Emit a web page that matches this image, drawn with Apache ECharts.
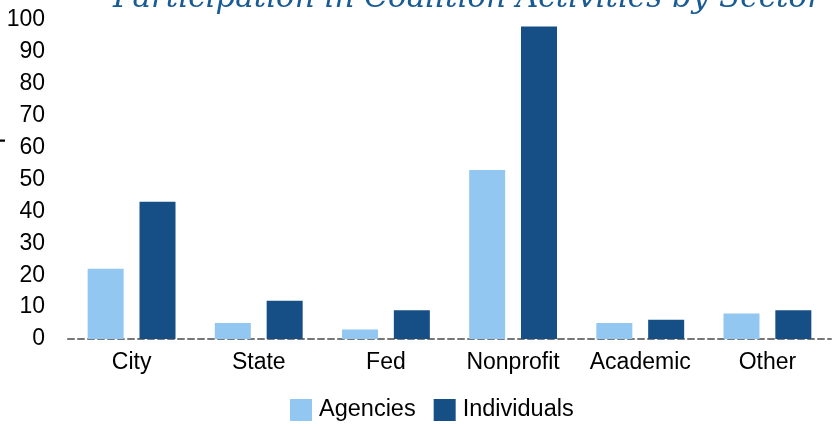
<!DOCTYPE html>
<html>
<head>
<meta charset="utf-8">
<script src="https://cdn.jsdelivr.net/npm/echarts@6/dist/echarts.min.js"></script>
<style>
  html, body { margin: 0; padding: 0; background: #fff; }
  #chart { width: 837px; height: 424px; }
</style>
</head>
<body>
<div id="chart"></div>
<script>
// data
var sectors = ['City', 'State', 'Fed', 'Nonprofit', 'Academic', 'Other'];
var agencies = [22, 5, 3, 53, 5, 8];
var individuals = [43, 12, 9, 98, 6, 9];
var seriesNames = ['Agencies', 'Individuals'];

var chart = echarts.init(document.getElementById('chart'));

var option = {
  animation: false,
  textStyle: { fontFamily: 'Liberation Sans, Arial, sans-serif' },
  title: {
    text: 'Participation in Coalition Activities by Sector',
    left: 108,
    top: -22,
    textStyle: {
      fontFamily: 'DejaVu Serif',
      fontStyle: 'italic',
      fontWeight: 'normal',
      fontSize: 31,
      color: '#1a5b93'
    }
  },
  // y axis title, mostly cut off by the left edge as in the source
  graphic: [{
    type: 'text',
    left: -20,
    top: 80,
    rotation: Math.PI / 2,
    style: {
      text: '# of Participants',
      fontSize: 26,
      fill: '#000',
      fontFamily: 'Liberation Sans, Arial, sans-serif'
    }
  }],
  legend: {
    data: seriesNames,
    bottom: -3,
    left: 285,
    itemWidth: 22,
    itemHeight: 22,
    itemGap: 18,
    icon: 'rect',
    textStyle: { fontSize: 23.5, color: '#000', padding: [0, 0, 0, 2] }
  },
  grid: { left: 68, right: 6, top: 20, bottom: 85, outerBoundsMode: 'none', containLabel: false },
  xAxis: {
    type: 'category',
    data: sectors,
    axisLine: { show: true, lineStyle: { color: '#777', type: [6, 4], width: 2 } },
    axisTick: { show: false },
    axisLabel: { interval: 0, fontSize: 23, color: '#000', margin: 12 }
  },
  yAxis: {
    type: 'value',
    min: 0,
    max: 100,
    interval: 10,
    axisLine: { show: false },
    axisTick: { show: false },
    splitLine: { show: false },
    axisLabel: { fontSize: 23, color: '#000', margin: 23 }
  },
  series: [
    {
      name: seriesNames[0],
      type: 'bar',
      data: agencies,
      barWidth: 36,
      barGap: '44%',
      itemStyle: { color: '#92c7f2' }
    },
    {
      name: seriesNames[1],
      type: 'bar',
      data: individuals,
      barWidth: 36,
      itemStyle: { color: '#154f85' }
    }
  ]
};

chart.setOption(option);
</script>
</body>
</html>
